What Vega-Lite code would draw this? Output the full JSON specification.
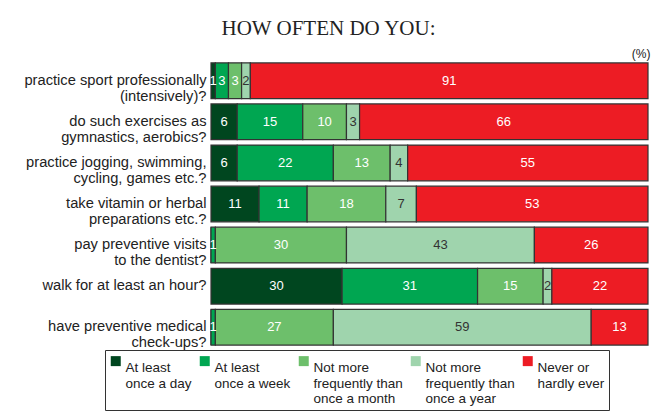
{
  "$schema": "https://vega.github.io/schema/vega-lite/v6.json",
  "autosize": {"type": "none"},
  "width": 437,
  "height": 288,
  "padding": {"left": 211, "top": 60, "right": 8, "bottom": 66},
  "background": "white",
  "title": {
    "text": "HOW OFTEN DO YOU:",
    "font": "Liberation Serif",
    "fontSize": 21,
    "fontWeight": "normal",
    "color": "#222222",
    "anchor": "middle",
    "frame": "group",
    "dx": -101,
    "baseline": "alphabetic",
    "offset": -9
  },
  "data": {
    "values": [
      {"q": "practice sport professionally\n(intensively)?", "f": "At least\nonce a day", "v": 1},
      {"q": "practice sport professionally\n(intensively)?", "f": "At least\nonce a week", "v": 3},
      {"q": "practice sport professionally\n(intensively)?", "f": "Not more\nfrequently than\nonce a month", "v": 3},
      {"q": "practice sport professionally\n(intensively)?", "f": "Not more\nfrequently than\nonce a year", "v": 2},
      {"q": "practice sport professionally\n(intensively)?", "f": "Never or\nhardly ever", "v": 91},
      {"q": "do such exercises as\ngymnastics, aerobics?", "f": "At least\nonce a day", "v": 6},
      {"q": "do such exercises as\ngymnastics, aerobics?", "f": "At least\nonce a week", "v": 15},
      {"q": "do such exercises as\ngymnastics, aerobics?", "f": "Not more\nfrequently than\nonce a month", "v": 10},
      {"q": "do such exercises as\ngymnastics, aerobics?", "f": "Not more\nfrequently than\nonce a year", "v": 3},
      {"q": "do such exercises as\ngymnastics, aerobics?", "f": "Never or\nhardly ever", "v": 66},
      {"q": "practice jogging, swimming,\ncycling, games etc.?", "f": "At least\nonce a day", "v": 6},
      {"q": "practice jogging, swimming,\ncycling, games etc.?", "f": "At least\nonce a week", "v": 22},
      {"q": "practice jogging, swimming,\ncycling, games etc.?", "f": "Not more\nfrequently than\nonce a month", "v": 13},
      {"q": "practice jogging, swimming,\ncycling, games etc.?", "f": "Not more\nfrequently than\nonce a year", "v": 4},
      {"q": "practice jogging, swimming,\ncycling, games etc.?", "f": "Never or\nhardly ever", "v": 55},
      {"q": "take vitamin or herbal\npreparations etc.?", "f": "At least\nonce a day", "v": 11},
      {"q": "take vitamin or herbal\npreparations etc.?", "f": "At least\nonce a week", "v": 11},
      {"q": "take vitamin or herbal\npreparations etc.?", "f": "Not more\nfrequently than\nonce a month", "v": 18},
      {"q": "take vitamin or herbal\npreparations etc.?", "f": "Not more\nfrequently than\nonce a year", "v": 7},
      {"q": "take vitamin or herbal\npreparations etc.?", "f": "Never or\nhardly ever", "v": 53},
      {"q": "pay preventive visits\nto the dentist?", "f": "At least\nonce a day", "v": 0},
      {"q": "pay preventive visits\nto the dentist?", "f": "At least\nonce a week", "v": 1},
      {"q": "pay preventive visits\nto the dentist?", "f": "Not more\nfrequently than\nonce a month", "v": 30},
      {"q": "pay preventive visits\nto the dentist?", "f": "Not more\nfrequently than\nonce a year", "v": 43},
      {"q": "pay preventive visits\nto the dentist?", "f": "Never or\nhardly ever", "v": 26},
      {"q": "walk for at least an hour?", "f": "At least\nonce a day", "v": 30},
      {"q": "walk for at least an hour?", "f": "At least\nonce a week", "v": 31},
      {"q": "walk for at least an hour?", "f": "Not more\nfrequently than\nonce a month", "v": 15},
      {"q": "walk for at least an hour?", "f": "Not more\nfrequently than\nonce a year", "v": 2},
      {"q": "walk for at least an hour?", "f": "Never or\nhardly ever", "v": 22},
      {"q": "have preventive medical\ncheck-ups?", "f": "At least\nonce a day", "v": 0},
      {"q": "have preventive medical\ncheck-ups?", "f": "At least\nonce a week", "v": 1},
      {"q": "have preventive medical\ncheck-ups?", "f": "Not more\nfrequently than\nonce a month", "v": 27},
      {"q": "have preventive medical\ncheck-ups?", "f": "Not more\nfrequently than\nonce a year", "v": 59},
      {"q": "have preventive medical\ncheck-ups?", "f": "Never or\nhardly ever", "v": 13}
    ]
  },
  "transform": [
    {"stack": "v", "groupby": ["q"], "as": ["x0", "x1"]},
    {"calculate": "(datum.x0 + datum.x1) / 2", "as": "xm"}
  ],
  "layer": [
    {
      "mark": {"type": "bar", "stroke": "#333333", "strokeWidth": 1.2},
      "encoding": {
        "y": {
          "field": "q", "type": "nominal", "sort": null,
          "scale": {"paddingInner": 0.13, "paddingOuter": 0.07},
          "axis": {
            "title": null, "ticks": false, "domain": false,
            "labelExpr": "split(datum.label, '\\n')",
            "labelFont": "Liberation Sans", "labelFontSize": 14.7,
            "labelColor": "#222222", "labelPadding": 5,
            "labelLineHeight": 16, "labelLimit": 300
          }
        },
        "x": {
          "field": "x0", "type": "quantitative",
          "scale": {"domain": [0, 100], "nice": false, "zero": true},
          "axis": {
            "orient": "top", "labels": false, "ticks": false, "domain": false, "grid": false,
            "title": "(%)", "titleFont": "Liberation Sans", "titleFontSize": 12,
            "titleFontWeight": "normal", "titleColor": "#222222",
            "titleX": 439, "titleY": -3, "titleAlign": "right",
            "titleBaseline": "alphabetic", "titleAnchor": "end"
          }
        },
        "x2": {"field": "x1"},
        "color": {
          "field": "f", "type": "nominal",
          "scale": {
            "domain": ["At least\nonce a day", "At least\nonce a week", "Not more\nfrequently than\nonce a month", "Not more\nfrequently than\nonce a year", "Never or\nhardly ever"],
            "range": ["#00461f", "#00a651", "#6dbf6b", "#9fd4ad", "#ed1c24"]
          },
          "legend": {
            "title": null, "orient": "none", "legendX": -106, "legendY": 290,
            "direction": "horizontal", "columns": 5, "columnPadding": 6,
            "symbolType": "square", "symbolSize": 100, "symbolStrokeWidth": 0,
            "labelFont": "Liberation Sans", "labelFontSize": 13.5, "labelColor": "#222222",
            "labelLineHeight": 17, "labelBaseline": "top", "labelOffset": 3, "labelLimit": 0,
            "labelExpr": "split(datum.label + (indexof(datum.label, 'than') < 0 ? '\\n ' : ''), '\\n')",
            "padding": 4, "strokeColor": "#333333", "fillColor": "white",
            "encode": {"labels": {"update": {"dy": {"value": -9}}}}
          }
        }
      }
    },
    {
      "transform": [{"filter": "datum.v > 0"}],
      "mark": {"type": "text", "font": "Liberation Sans", "fontSize": 13, "baseline": "middle", "align": "center"},
      "encoding": {
        "y": {"field": "q", "type": "nominal", "sort": null},
        "x": {"field": "xm", "type": "quantitative"},
        "text": {"field": "v", "type": "quantitative"},
        "color": {
          "condition": {"test": "indexof(datum.f, 'once a year') >= 0", "value": "#333333"},
          "value": "white"
        }
      }
    }
  ],
  "config": {"view": {"stroke": null}}
}
